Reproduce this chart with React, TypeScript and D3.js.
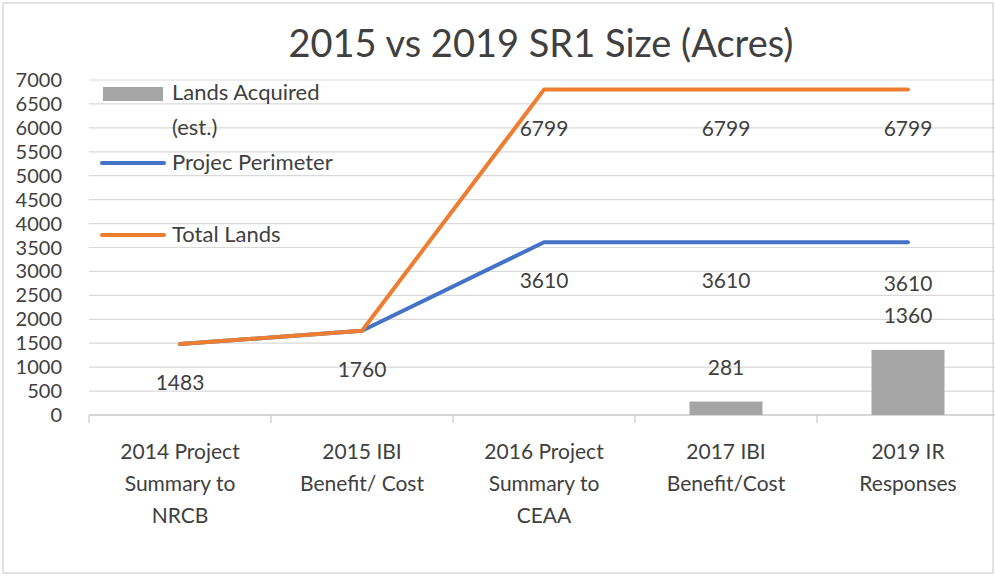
import React from "react";
import * as d3 from "d3";

const categories = [
  ["2014 Project", "Summary to", "NRCB"],
  ["2015 IBI", "Benefit/ Cost"],
  ["2016 Project", "Summary to", "CEAA"],
  ["2017 IBI", "Benefit/Cost"],
  ["2019 IR", "Responses"],
];
const categoryKeys = ["c2014", "c2015", "c2016", "c2017", "c2019"];
const landsAcquired: (number | null)[] = [null, null, null, 281, 1360];
const projectPerimeter = [1483, 1760, 3610, 3610, 3610];
const totalLands = [1483, 1760, 6799, 6799, 6799];
const yTicks = d3.range(0, 7001, 500);

const W = 995;
const H = 578;
const FONT = "Lato, 'Open Sans', sans-serif";
const TEXT = "#404040";

export default function App() {
  const x = d3.scaleBand<string>().domain(categoryKeys).range([89, 999]);
  const y = d3.scaleLinear().domain([0, 7000]).range([415, 80]);
  const cx = (i: number) => (x(categoryKeys[i]) as number) + x.bandwidth() / 2;
  const line = d3
    .line<number>()
    .x((_, i) => cx(i))
    .y((d) => y(d));
  const barW = 73;

  return (
    <svg
      width={W}
      height={H}
      style={{ position: "absolute", left: 0, top: 0, display: "block", background: "#fff" }}
      fontFamily={FONT}
    >
      <rect x={3} y={3} width={W - 5} height={H - 8} fill="#fff" stroke="#d9d9d9" strokeWidth={1.5} />
      <text x={541} y={57} textAnchor="middle" fontSize={38} fill={TEXT}>
        2015 vs 2019 SR1 Size (Acres)
      </text>
      {/* gridlines */}
      {yTicks.map((t) =>
        t === 0 ? null : (
          <line key={t} x1={89} x2={999} y1={y(t)} y2={y(t)} stroke="#d9d9d9" strokeWidth={1.2} />
        )
      )}
      {/* axis line */}
      <line x1={89} x2={999} y1={y(0)} y2={y(0)} stroke="#c8c8c8" strokeWidth={1.5} />
      {categoryKeys.map((k, i) => (
        <line key={k} x1={x(k) as number} x2={x(k) as number} y1={y(0)} y2={y(0) + 8} stroke="#c8c8c8" strokeWidth={1.2} />
      ))}
      {/* y tick labels */}
      {yTicks.map((t) => (
        <text key={t} x={62} y={y(t) + 7} textAnchor="end" fontSize={20} fill={TEXT}>
          {t}
        </text>
      ))}
      {/* category labels */}
      {categories.map((lines, i) => (
        <text key={i} x={cx(i)} textAnchor="middle" fontSize={21} fill={TEXT}>
          {lines.map((l, j) => (
            <tspan key={j} x={cx(i)} y={459 + j * 32}>
              {l}
            </tspan>
          ))}
        </text>
      ))}
      {/* bars */}
      {landsAcquired.map((v, i) =>
        v == null ? null : (
          <g key={i}>
            <rect x={cx(i) - barW / 2} y={y(v)} width={barW} height={y(0) - y(v)} fill="#a5a5a5" />
            <text x={cx(i)} y={y(v) - 27} textAnchor="middle" fontSize={21} fill={TEXT}>
              {v}
            </text>
          </g>
        )
      )}
      {/* lines */}
      <path d={line(projectPerimeter) as string} fill="none" stroke="#4472c4" strokeWidth={4} strokeLinejoin="round" strokeLinecap="round" />
      <path d={line(totalLands) as string} fill="none" stroke="#ed7d31" strokeWidth={4} strokeLinejoin="round" strokeLinecap="round" />
      {projectPerimeter.map((v, i) =>
        i < 2 ? null : (
          <text key={"p" + i} x={cx(i)} y={y(v) + (i === 4 ? 49 : 46)} textAnchor="middle" fontSize={21} fill={TEXT}>
            {v}
          </text>
        )
      )}
      {totalLands.map((v, i) => (
        <text key={"t" + i} x={cx(i)} y={y(v) + 46} textAnchor="middle" fontSize={21} fill={TEXT}>
          {v}
        </text>
      ))}
      {/* legend */}
      <rect x={103} y={87} width={60} height={14} fill="#a5a5a5" />
      <text x={172} y={100} fontSize={22} fill={TEXT}>Lands Acquired</text>
      <text x={172} y={135} fontSize={22} fill={TEXT}>(est.)</text>
      <line x1={102} x2={164} y1={163} y2={163} stroke="#4472c4" strokeWidth={4} strokeLinecap="round" />
      <text x={172} y={170} fontSize={22} fill={TEXT}>Projec Perimeter</text>
      <line x1={102} x2={164} y1={235} y2={235} stroke="#ed7d31" strokeWidth={4} strokeLinecap="round" />
      <text x={172} y={242} fontSize={22} fill={TEXT}>Total Lands</text>
    </svg>
  );
}
